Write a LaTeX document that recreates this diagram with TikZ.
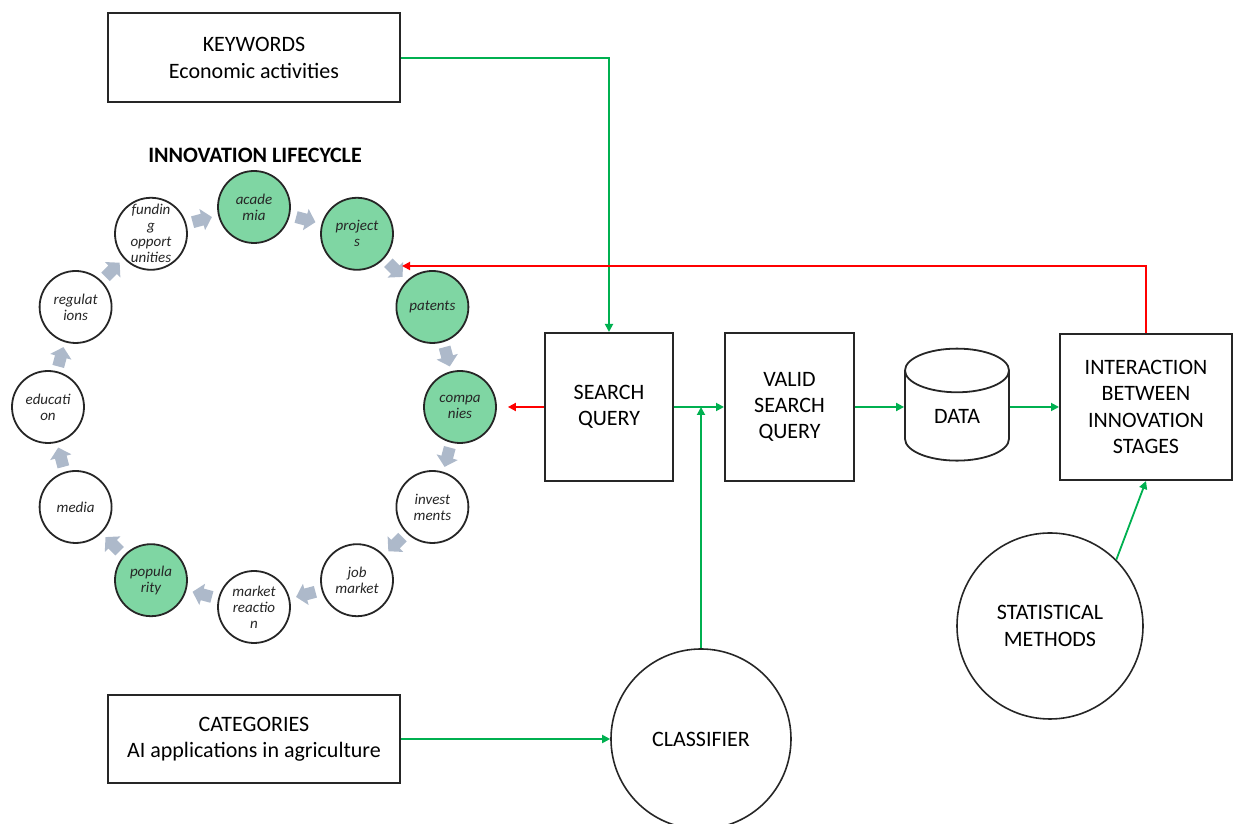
\documentclass[tikz,border=0pt]{standalone}
\usepackage{fontspec}
\setmainfont{Carlito}
\usetikzlibrary{calc, arrows.meta, shapes.geometric}
\definecolor{lcgreen}{RGB}{127,214,163}
\definecolor{flowgreen}{RGB}{0,176,80}
\definecolor{flowred}{RGB}{255,0,0}
\definecolor{cyclegray}{RGB}{173,185,202}
\definecolor{cycletext}{RGB}{38,38,38}

\begin{document}
\begin{tikzpicture}[x=0.5pt, y=0.5pt,
        box/.style={draw=black!85, line width=1pt, align=center, inner sep=0pt, font=\fontsize{11}{13.2}\selectfont},
        stage/.style={circle, draw=black!85, line width=0.9pt, minimum size=36pt, inner sep=0pt, align=center, text=cycletext, font=\fontsize{7.5}{8}\selectfont\itshape},
        bigcircle/.style={circle, draw=black!85, line width=0.8pt, inner sep=0pt, align=center, font=\fontsize{11}{13.2}\selectfont},
        greenflow/.style={flowgreen, line width=0.9pt, -{Triangle[length=4pt,width=4pt]}},
        redflow/.style={flowred, line width=0.9pt, -{Triangle[length=4pt,width=4pt]}},
        cyclearrow/.pic={\fill[cyclegray] (-10,-6)--(0,-6)--(0,-11)--(10,0)--(0,11)--(0,6)--(-10,6)--cycle;}]
            \useasboundingbox (0,0) rectangle (1233,824);

            \node[box, minimum width=146pt, minimum height=44.5pt] (keywords) at (254,766) {KEYWORDS\\Economic activities};
            \node[box, minimum width=146pt, minimum height=44pt] (categories) at (254,85) {CATEGORIES\\AI applications in agriculture};
            \node[font=\fontsize{11}{13.2}\selectfont\bfseries] (title) at (255,669) {INNOVATION LIFECYCLE};

            \foreach \a/\n/\t/\f in {90/academia/{acade\\mia}/lcgreen, 60/projects/{project\\s}/lcgreen,
                    30/patents/patents/lcgreen, 0/companies/{compa\\nies}/lcgreen,
                    -30/investments/{invest\\ments}/white, -60/jobmarket/{job\\market}/white,
                    -90/reaction/{market\\reactio\\n}/white, -120/popularity/{popula\\rity}/lcgreen,
                    -150/media/media/white, 180/education/{educati\\on}/white,
                    150/regulations/{regulat\\ions}/white, 120/funding/{fundin\\g\\opport\\unities}/white}
                \node[stage, fill=\f] (\n) at ({254+206*cos(\a)},{417+200*sin(\a)}) {\t};
            \foreach \a in {105,75,...,-225}
                \pic[rotate=\a-90] at ({254+200*cos(\a)},{417+194*sin(\a)}) {cyclearrow};

            \node[box, minimum width=64pt, minimum height=74pt] (search) at (609,417) {SEARCH\\QUERY};
            \node[box, minimum width=64.5pt, minimum height=74pt] (valid) at (789.5,417) {VALID\\SEARCH\\QUERY};
            \node[cylinder, shape border rotate=90, aspect=0.95, draw=black!85, line width=0.9pt, minimum width=52pt, minimum height=56pt, inner sep=0pt, font=\fontsize{11}{13.2}\selectfont] (data) at (957,408) {DATA};
            \node[box, minimum width=86pt, minimum height=73pt] (inter) at (1146,417) {INTERACTION\\BETWEEN\\INNOVATION\\STAGES};
            \node[bigcircle, minimum size=93pt] (stat) at (1050,198) {STATISTICAL\\METHODS};
            \node[bigcircle, minimum size=90pt] (classifier) at (701,85) {CLASSIFIER};

            \draw[greenflow] (keywords.east) -| (search.north);
            \draw[greenflow] (search.east) -- (valid.west);
            \draw[greenflow] (classifier.north) -- (classifier.north |- search.east);
            \draw[greenflow] (valid.east) -- (valid.east -| data.west);
            \draw[greenflow] (data.east |- inter.west) -- (inter.west);
            \draw[greenflow] (categories.east) -- (classifier.west);
            \draw[greenflow] (stat.45) -- (inter.south);
            \draw[redflow] (search.west) -- ([xshift=5.5pt]companies.east);
            \coordinate (feedback) at (402,558);
            \draw[redflow] (inter.north) |- (feedback);
\end{tikzpicture}
\end{document}
